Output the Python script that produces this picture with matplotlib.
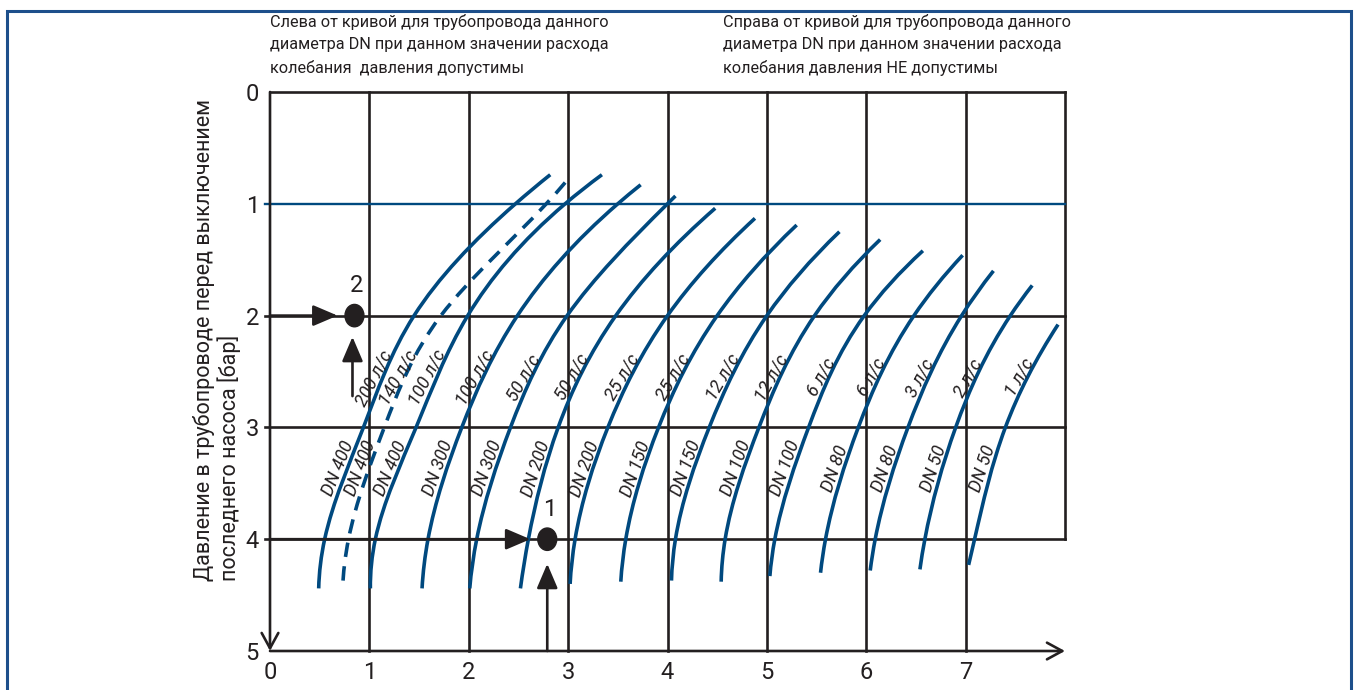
import numpy as np
import matplotlib
matplotlib.use('Agg')
import matplotlib.pyplot as plt
from matplotlib.path import Path
from matplotlib.patches import PathPatch, Ellipse, Rectangle

plt.rcParams['font.family'] = ['Roboto', 'DejaVu Sans']

# curve labels (left to right)
dn_labels = ['DN 400', 'DN 400', 'DN 400', 'DN 300', 'DN 300', 'DN 200', 'DN 200', 'DN 150',
             'DN 150', 'DN 100', 'DN 100', 'DN 80', 'DN 80', 'DN 50', 'DN 50']
flow_labels = ['200 л/с', '140 л/с', '100 л/с', '100 л/с', '50 л/с', '50 л/с', '25 л/с', '25 л/с',
               '12 л/с', '12 л/с', '6 л/с', '6 л/с', '3 л/с', '2 л/с', '1 л/с']
dashed = [False, True] + [False] * 13

# points: top end, crossings of grid lines, bottom end
curve_x = [
    [2.82, 2.47, 1.45, 0.94, 0.55, 0.49],
    [2.97, 2.78, 1.72, 1.15, 0.79, 0.73],
    [3.34, 2.97, 1.99, 1.47, 1.06, 1.01],
    [3.73, 3.50, 2.49, 1.93, 1.59, 1.53],
    [4.08, 4.00, 2.99, 2.42, 2.08, 2.01],
    [4.48, 3.48, 2.90, 2.60, 2.52],
    [4.88, 4.00, 3.40, 3.07, 3.02],
    [5.30, 4.50, 3.91, 3.58, 3.53],
    [5.73, 5.00, 4.42, 4.08, 4.04],
    [6.14, 5.48, 4.92, 4.58, 4.54],
    [6.57, 5.98, 5.42, 5.08, 5.03],
    [6.97, 6.48, 5.92, 5.59, 5.54],
    [7.28, 6.96, 6.42, 6.09, 6.04],
    [7.67, 7.45, 6.90, 6.59, 6.54],
    [7.93, 7.40, 7.09, 7.03],
]
curve_y = [
    [0.74, 1.0, 2.0, 3.0, 4.0, 4.44],
    [0.81, 1.0, 2.0, 3.0, 4.0, 4.45],
    [0.74, 1.0, 2.0, 3.0, 4.0, 4.44],
    [0.83, 1.0, 2.0, 3.0, 4.0, 4.44],
    [0.93, 1.0, 2.0, 3.0, 4.0, 4.44],
    [1.04, 2.0, 3.0, 4.0, 4.44],
    [1.13, 2.0, 3.0, 4.0, 4.40],
    [1.19, 2.0, 3.0, 4.0, 4.38],
    [1.25, 2.0, 3.0, 4.0, 4.37],
    [1.32, 2.0, 3.0, 4.0, 4.38],
    [1.42, 2.0, 3.0, 4.0, 4.33],
    [1.46, 2.0, 3.0, 4.0, 4.30],
    [1.60, 2.0, 3.0, 4.0, 4.28],
    [1.73, 2.0, 3.0, 4.0, 4.27],
    [2.08, 3.0, 4.0, 4.23],
]

# example points 1 and 2
pt_x = [2.79, 0.85]
pt_y = [4.0, 2.0]
pt_names = ['1', '2']

x_ticks = [0, 1, 2, 3, 4, 5, 6, 7]
y_ticks = [0, 1, 2, 3, 4, 5]

text_left = ('Слева от кривой для трубопровода данного\n'
             'диаметра DN при данном значении расхода\n'
             'колебания  давления допустимы')
text_right = ('Справа от кривой для трубопровода данного\n'
              'диаметра DN при данном значении расхода\n'
              'колебания давления НЕ допустимы')
y_title = 'Давление в трубопроводе перед выключением\nпоследнего насоса [бар]'

BLUE = '#00497f'
BLACK = '#231f20'

W, H = 1358, 690
fig = plt.figure(figsize=(W / 100, H / 100), dpi=100)
ax_l, ax_r, ax_t, ax_b = 270, 1065, 92, 651
ax = fig.add_axes([ax_l / W, 1 - ax_b / H, (ax_r - ax_l) / W, (ax_b - ax_t) / H])
ax.set_xlim(0, 8)
ax.set_ylim(5, 0)
for s in ax.spines.values():
    s.set_visible(False)
ux = (ax_r - ax_l) / 8
uy = (ax_b - ax_t) / 5


def smooth_path(xs, ys):
    # cubic spline x(y) through the read points (parabolic run-out), drawn as bezier segments
    x = np.asarray(xs, float)
    y = np.asarray(ys, float)
    n = len(x)
    h = np.diff(y)
    A = np.zeros((n, n))
    r = np.zeros(n)
    A[0, 0], A[0, 1] = 1, -1
    A[-1, -1], A[-1, -2] = 1, -1
    for i in range(1, n - 1):
        A[i, i - 1] = h[i - 1]
        A[i, i] = 2 * (h[i - 1] + h[i])
        A[i, i + 1] = h[i]
        r[i] = 6 * ((x[i + 1] - x[i]) / h[i] - (x[i] - x[i - 1]) / h[i - 1])
    M = np.linalg.solve(A, r)
    dx = np.empty(n)
    dx[:-1] = (x[1:] - x[:-1]) / h - h * (2 * M[:-1] + M[1:]) / 6
    dx[-1] = (x[-1] - x[-2]) / h[-1] + h[-1] * (M[-2] + 2 * M[-1]) / 6
    verts, codes = [(x[0], y[0])], [Path.MOVETO]
    for i in range(n - 1):
        verts += [(x[i] + dx[i] * h[i] / 3, y[i] + h[i] / 3),
                  (x[i + 1] - dx[i + 1] * h[i] / 3, y[i + 1] - h[i] / 3),
                  (x[i + 1], y[i + 1])]
        codes += [Path.CURVE4] * 3
    return Path(verts, codes)


# grid
glw = 1.9
for x in range(1, 8):
    ax.plot([x, x], [0, 5], color=BLACK, lw=glw, clip_on=False, zorder=1)
ax.plot([8, 8], [0, 4], color=BLACK, lw=glw, clip_on=False, zorder=1)
ax.plot([0, 8], [0, 0], color=BLACK, lw=glw, clip_on=False, zorder=1)
for y in (2, 3, 4):
    ax.plot([-0.05, 8], [y, y], color=BLACK, lw=glw, clip_on=False, zorder=1)
ax.plot([-0.05, 8], [1, 1], color=BLUE, lw=1.7, clip_on=False, zorder=1)

# axes with arrows
ax.annotate('', xy=(0, 5.0), xytext=(0, 0), annotation_clip=False,
            arrowprops=dict(arrowstyle='->,head_length=0.55,head_width=0.3', color=BLACK,
                            lw=glw, shrinkA=0, shrinkB=0, mutation_scale=20))
ax.annotate('', xy=(8.0, 5), xytext=(0, 5), annotation_clip=False,
            arrowprops=dict(arrowstyle='->,head_length=0.55,head_width=0.3', color=BLACK,
                            lw=glw, shrinkA=0, shrinkB=0, mutation_scale=20))

# curves and their labels
for xs, ys, dn, fl, dsh in zip(curve_x, curve_y, dn_labels, flow_labels, dashed):
    patch = PathPatch(smooth_path(xs, ys), fill=False, ec=BLUE, lw=2.6, zorder=3,
                      capstyle='butt', linestyle=(0, (4, 2.6)) if dsh else '-')
    ax.add_patch(patch)
    for yl, lab in ((2.6, fl), (3.4, dn)):
        xc = np.interp(yl, ys, xs)
        d = (np.interp(yl - 0.15, ys, xs) - np.interp(yl + 0.15, ys, xs)) / 0.3
        th = np.degrees(np.arctan2(uy, d * ux)) - 3
        off = 7.5
        ax.annotate(lab, xy=(xc, yl), xytext=(-off * np.sin(np.radians(th)), off * np.cos(np.radians(th))),
                    textcoords='offset points', rotation=th, rotation_mode='anchor',
                    ha='center', va='center', fontsize=13, style='italic', color=BLACK, zorder=4)

# example points with arrows
for px, py, name in zip(pt_x, pt_y, pt_names):
    ax.add_patch(Ellipse((px, py), 0.19, 0.2, color=BLACK, zorder=6))
    ax.text(px + 0.02, py - 0.27, name, ha='center', va='center', fontsize=17, color=BLACK, zorder=6)
    ax.annotate('', xy=(px - 0.17, py), xytext=(0, py), annotation_clip=False,
                arrowprops=dict(arrowstyle='-|>,head_length=0.75,head_width=0.32', color=BLACK,
                                lw=glw, shrinkA=0, shrinkB=0, mutation_scale=20), zorder=5)
ax.annotate('', xy=(pt_x[0], pt_y[0] + 0.22), xytext=(pt_x[0], 5), annotation_clip=False,
            arrowprops=dict(arrowstyle='-|>,head_length=0.75,head_width=0.32', color=BLACK,
                            lw=glw, shrinkA=0, shrinkB=0, mutation_scale=20), zorder=5)
ax.annotate('', xy=(pt_x[1] - 0.02, pt_y[1] + 0.19), xytext=(pt_x[1] - 0.02, 2.72), annotation_clip=False,
            arrowprops=dict(arrowstyle='-|>,head_length=0.75,head_width=0.32', color=BLACK,
                            lw=glw, shrinkA=0, shrinkB=0, mutation_scale=20), zorder=5)

# ticks
ax.set_xticks(x_ticks)
ax.set_yticks(y_ticks)
ax.tick_params(length=0, labelsize=17, colors=BLACK, pad=7)
ax.tick_params(axis='y', pad=8)

fig.text(217 / W, 1 - 340 / H, y_title, rotation=90, ha='center', va='center',
         multialignment='left', fontsize=15.5, color=BLACK, linespacing=1.1)
fig.text(270 / W, 1 - 14 / H, text_left, ha='left', va='top', fontsize=11.7, color=BLACK, linespacing=1.6)
fig.text(723 / W, 1 - 14 / H, text_right, ha='left', va='top', fontsize=11.7, color=BLACK, linespacing=1.6)

# outer frame
fig.add_artist(Rectangle((7 / W, -0.1), (1351 - 7) / W, 1.1 - 11 / H, transform=fig.transFigure,
                         fill=False, ec='#1d4f8b', lw=2.2))

fig.savefig('out.png', dpi=100)
